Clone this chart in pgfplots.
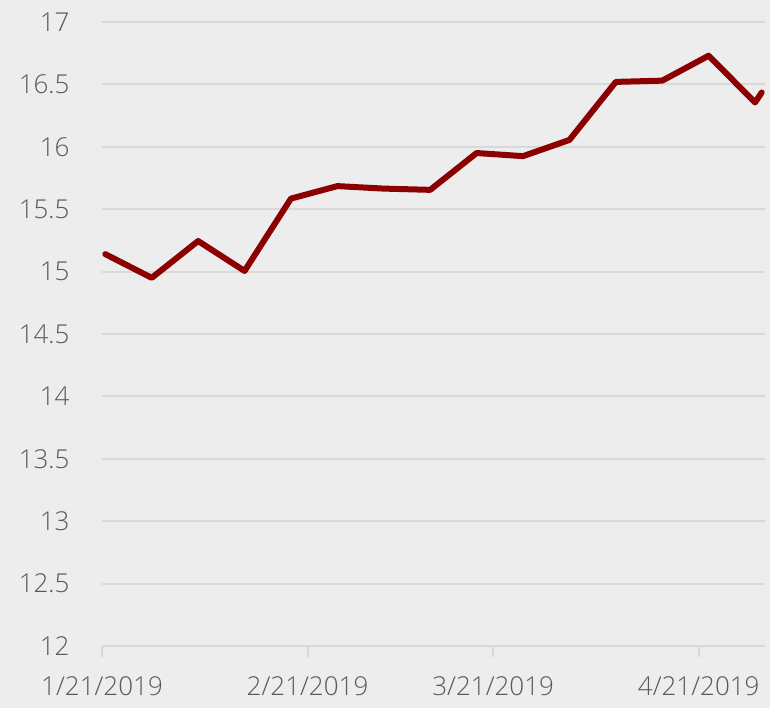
\documentclass[border=0pt]{standalone}
\usepackage{fontspec}
\IfFontExistsTF{Open Sans Light}{\setmainfont{Open Sans Light}}{\setmainfont{Open Sans}}
\usepackage{xcolor}
\usepackage{pgfplots}
\pgfplotsset{compat=1.18}
\definecolor{bgcol}{RGB}{237,237,237}
\definecolor{gridcol}{RGB}{217,217,217}
\definecolor{labcol}{RGB}{89,89,89}
\definecolor{linecol}{RGB}{139,0,0}
\begin{document}
\begin{tikzpicture}[x=1pt,y=1pt]
  \fill[bgcol] (0,0) rectangle (770,708);
  \begin{axis}[
      at={(102pt,62pt)}, anchor=south west,
      width=663pt, height=624pt, scale only axis,
      xmin=0, xmax=100, ymin=12, ymax=17,
      ytick={12,12.5,...,17},
      xtick={0,31,59,90},
      xticklabels={1/21/2019,2/21/2019,3/21/2019,4/21/2019},
      axis line style={draw=none},
      ymajorgrids, grid style={gridcol, line width=2pt},
      xtick pos=bottom, ytick pos=left,
      tick align=outside,
      major tick length=11pt,
      xtick style={draw=gridcol, line width=2pt},
      ytick style={draw=none},
      /pgf/number format/assume math mode=true,
      ticklabel style={font=\fontsize{26}{30}\selectfont, text=labcol},
      yticklabel style={xshift=-18pt},
      xticklabel style={yshift=-16pt},
    ]
    \addplot[linecol, line width=6pt, line join=round, line cap=round] coordinates {
      (0.5,15.14) (7.5,14.95) (14.5,15.245) (21.5,15.005) (28.5,15.585)
      (35.5,15.685) (42.5,15.665) (49.5,15.655) (56.5,15.95) (63.5,15.925)
      (70.5,16.055) (77.5,16.52) (84.5,16.53) (91.5,16.73) (98.5,16.355)
      (99.5,16.435)
    };
  \end{axis}
  \pgfresetboundingbox
  \path[use as bounding box] (0,0) rectangle (770,708);
\end{tikzpicture}
\end{document}
